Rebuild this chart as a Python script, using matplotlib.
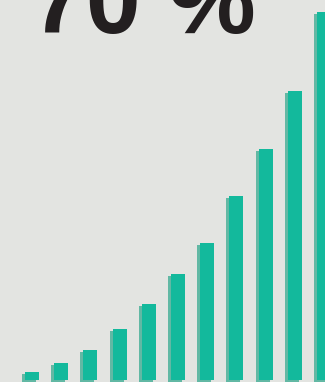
import numpy as np
import matplotlib
matplotlib.use('Agg')
import matplotlib.pyplot as plt

# Bar heights (growth series) and the headline figure
years = np.arange(11)
heights = [8, 17, 30, 51, 76, 106, 137, 184, 231, 289, 368]
headline = '70 %'

bg = '#e3e4e1'
bar_color = '#13b99c'
shadow_color = '#62b8a4'

fig = plt.figure(figsize=(3.25, 3.82), dpi=100, facecolor=bg)
ax = fig.add_axes([0, 0, 1, 1])
ax.set_facecolor(bg)

# Shadow bars sit a little left and below the main bars
step = 29.2
ax.bar(years - 3 / step, heights, width=14 / step, bottom=-2, color=shadow_color, linewidth=0)
ax.bar(years, heights, width=14 / step, bottom=0, color=bar_color, linewidth=0)

ax.set_xlim(-32 / step, (325 - 32) / step)
ax.set_ylim(-2, 380)
ax.axis('off')

# Large headline number, cut off by the top edge
fig.text(31 / 325, (382 - 33) / 382, headline, fontsize=71, fontweight='bold',
         family='Liberation Sans', color='#231f20', va='baseline', ha='left')

fig.savefig('out.png', dpi=100, facecolor=bg)
